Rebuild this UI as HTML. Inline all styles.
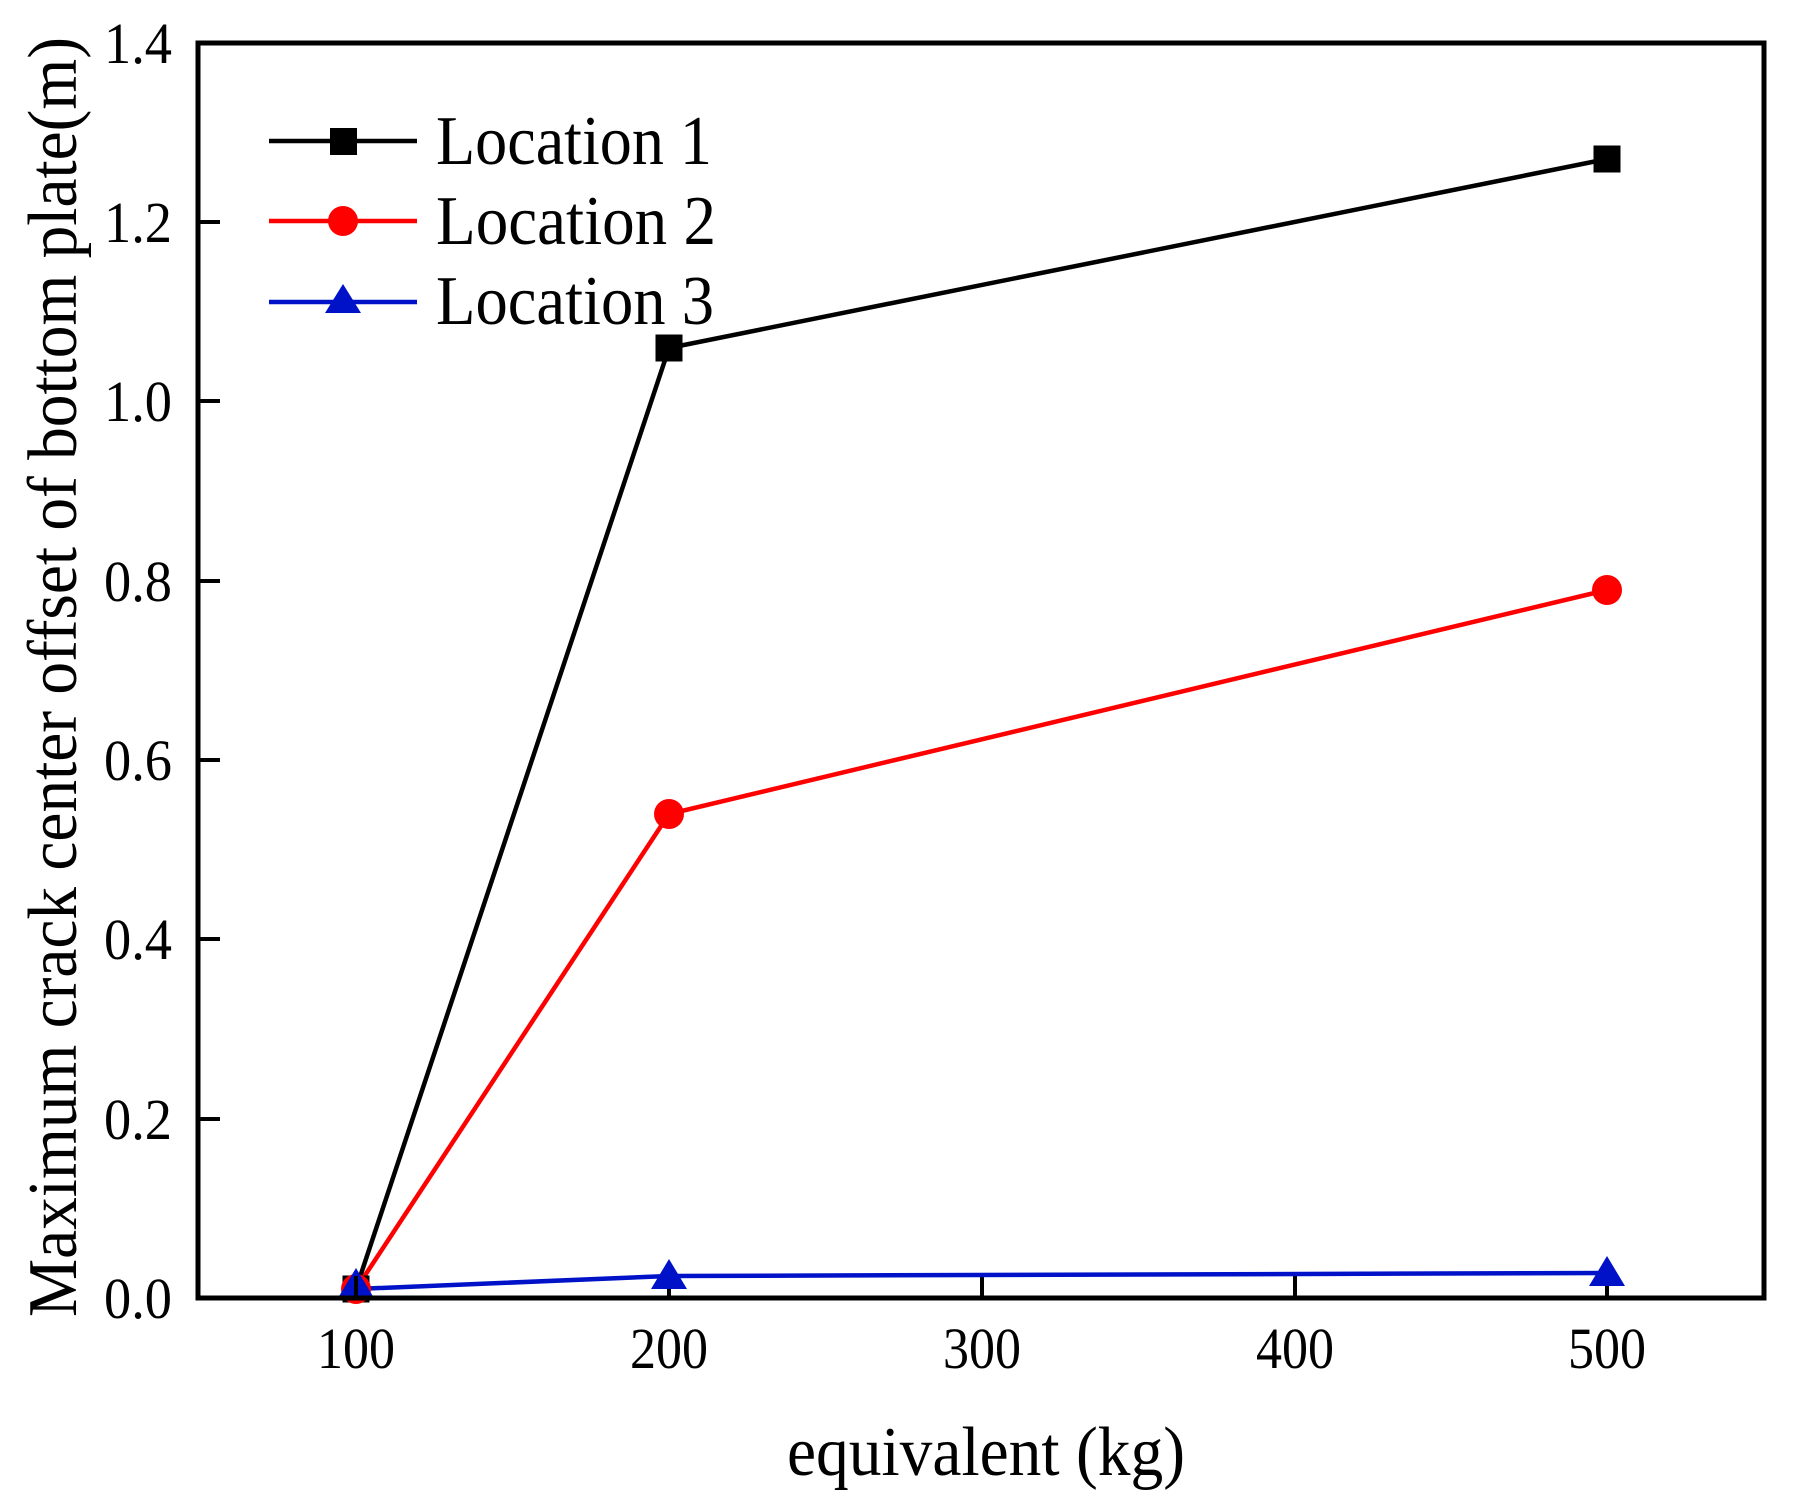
<!DOCTYPE html>
<html><head><meta charset="utf-8"><style>
html,body{margin:0;padding:0;background:#fff;}
svg{display:block;}
text{font-family:"Liberation Serif",serif;fill:#000;}
</style></head><body>
<svg width="1793" height="1497" viewBox="0 0 1793 1497" xmlns="http://www.w3.org/2000/svg">
<rect width="1793" height="1497" fill="#fff"/>
<g stroke="#000" stroke-width="4">
<line x1="198" y1="222" x2="220" y2="222"/>
<line x1="198" y1="401" x2="220" y2="401"/>
<line x1="198" y1="581" x2="220" y2="581"/>
<line x1="198" y1="760" x2="220" y2="760"/>
<line x1="198" y1="939" x2="220" y2="939"/>
<line x1="198" y1="1119" x2="220" y2="1119"/>
<line x1="356" y1="1298" x2="356" y2="1276"/>
<line x1="669" y1="1298" x2="669" y2="1276"/>
<line x1="982" y1="1298" x2="982" y2="1276"/>
<line x1="1295" y1="1298" x2="1295" y2="1276"/>
<line x1="1607" y1="1298" x2="1607" y2="1276"/>
</g>
<polyline points="356,1289 669,348 1607,159" fill="none" stroke="#000" stroke-width="4.5"/>
<polyline points="356,1289 669,814 1607,590" fill="none" stroke="#f00" stroke-width="4.5"/>
<polyline points="356,1289 669,1276 1607,1273" fill="none" stroke="#0012c8" stroke-width="4.5"/>
<rect x="1593.5" y="145.5" width="27" height="27" fill="#000"/>
<rect x="655.5" y="334.5" width="27" height="27" fill="#000"/>
<rect x="342.5" y="1275.5" width="27" height="27" fill="#000"/>
<circle cx="1607" cy="590" r="15" fill="#f00"/>
<circle cx="669" cy="814" r="15" fill="#f00"/>
<circle cx="356" cy="1289" r="15" fill="#f00"/>
<polygon points="1607,1256 1589,1286 1625,1286" fill="#0012c8"/>
<polygon points="669,1259 651,1289 687,1289" fill="#0012c8"/>
<polygon points="356,1268 338,1298 374,1298" fill="#0012c8"/>
<line x1="356" y1="1298" x2="356" y2="1276" stroke="#000" stroke-width="4"/>
<rect x="198" y="43" width="1566" height="1255" fill="none" stroke="#000" stroke-width="5"/>
<line x1="269" y1="141" x2="417" y2="141" stroke="#000" stroke-width="4.5"/>
<rect x="330" y="128" width="27" height="27" fill="#000"/>
<line x1="269" y1="221" x2="417" y2="221" stroke="#f00" stroke-width="4.5"/>
<circle cx="343" cy="221" r="15" fill="#f00"/>
<line x1="269" y1="302" x2="417" y2="302" stroke="#0012c8" stroke-width="4.5"/>
<polygon points="343,284 325,313 361,313" fill="#0012c8"/>
<g font-size="70" lengthAdjust="spacingAndGlyphs">
<text x="436" y="164" textLength="276" lengthAdjust="spacingAndGlyphs">Location 1</text>
<text x="436" y="244" textLength="280" lengthAdjust="spacingAndGlyphs">Location 2</text>
<text x="436" y="324" textLength="278" lengthAdjust="spacingAndGlyphs">Location 3</text>
</g>
<g font-size="58" text-anchor="end">
<text x="172" y="1318" textLength="68" lengthAdjust="spacingAndGlyphs">0.0</text>
<text x="172" y="1139" textLength="68" lengthAdjust="spacingAndGlyphs">0.2</text>
<text x="172" y="959" textLength="68" lengthAdjust="spacingAndGlyphs">0.4</text>
<text x="172" y="780" textLength="68" lengthAdjust="spacingAndGlyphs">0.6</text>
<text x="172" y="601" textLength="68" lengthAdjust="spacingAndGlyphs">0.8</text>
<text x="172" y="421" textLength="68" lengthAdjust="spacingAndGlyphs">1.0</text>
<text x="172" y="242" textLength="68" lengthAdjust="spacingAndGlyphs">1.2</text>
<text x="172" y="63" textLength="68" lengthAdjust="spacingAndGlyphs">1.4</text>
</g>
<g font-size="58" text-anchor="middle">
<text x="356" y="1368" textLength="78" lengthAdjust="spacingAndGlyphs">100</text>
<text x="669" y="1368" textLength="78" lengthAdjust="spacingAndGlyphs">200</text>
<text x="982" y="1368" textLength="78" lengthAdjust="spacingAndGlyphs">300</text>
<text x="1295" y="1368" textLength="78" lengthAdjust="spacingAndGlyphs">400</text>
<text x="1607" y="1368" textLength="78" lengthAdjust="spacingAndGlyphs">500</text>
</g>
<text x="986" y="1475" font-size="70" text-anchor="middle" textLength="398" lengthAdjust="spacingAndGlyphs">equivalent (kg)</text>
<text transform="translate(76,677) rotate(-90)" font-size="70" text-anchor="middle" textLength="1280" lengthAdjust="spacingAndGlyphs">Maximum crack center offset of bottom plate(m)</text>
</svg>
</body></html>
